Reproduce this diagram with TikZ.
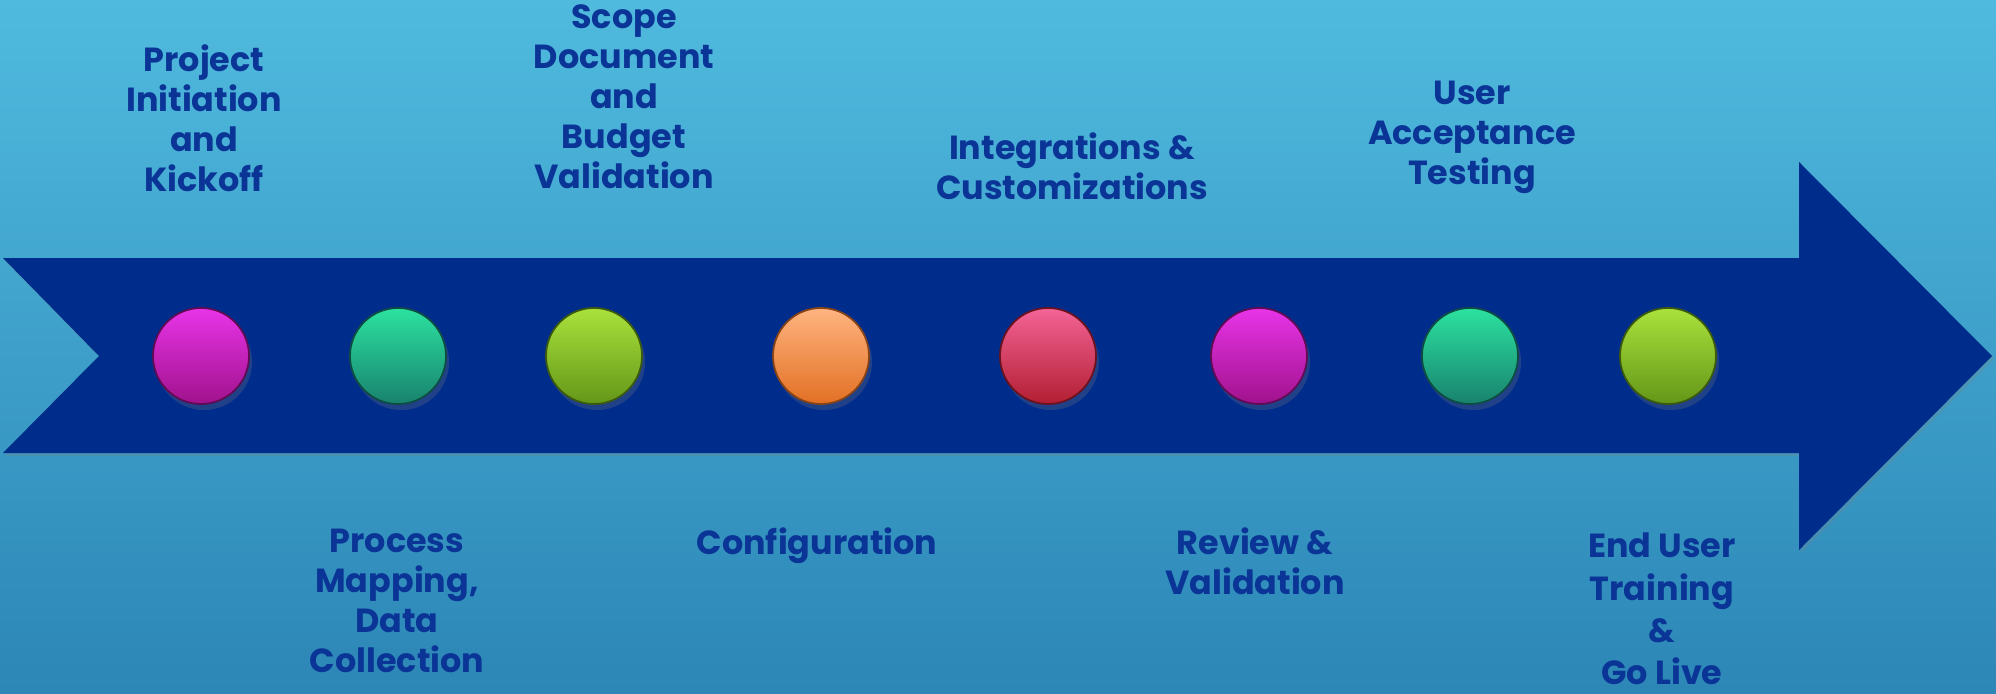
\documentclass[tikz,border=0pt]{standalone}
\usepackage{fontspec}
\setmainfont{Poppins}
\usetikzlibrary{shadows}

\definecolor{bgtop}{RGB}{80,186,222}
\definecolor{bgbot}{RGB}{44,134,182}
\definecolor{band}{RGB}{0,45,140}
\definecolor{ink}{RGB}{10,52,150}
\definecolor{magtop}{RGB}{232,52,232}
\definecolor{magbot}{RGB}{160,18,140}
\definecolor{grntop}{RGB}{44,226,160}
\definecolor{grnbot}{RGB}{24,130,110}
\definecolor{limtop}{RGB}{170,226,60}
\definecolor{limbot}{RGB}{100,150,24}
\definecolor{orgtop}{RGB}{255,180,128}
\definecolor{orgbot}{RGB}{226,112,36}
\definecolor{redtop}{RGB}{244,100,150}
\definecolor{redbot}{RGB}{178,30,50}

\begin{document}
\begin{tikzpicture}[x=0.01cm,y=-0.01cm,
  lbl/.style={align=center,text=ink,font=\bfseries\fontsize{9.5}{11.4}\selectfont},
  dot/.style 2 args={circle,minimum size=0.96cm,inner sep=0pt,top color=#1,bottom color=#2,
    draw=#2!60!black,line width=0.5pt,
    drop shadow={shadow xshift=0.3mm,shadow yshift=-0.6mm,opacity=0.25}}]
\useasboundingbox (0,0) rectangle (1996,694);
\fill[top color=bgtop,bottom color=bgbot] (0,0) rectangle (1996,694);

% the arrow band
\fill[band,drop shadow={shadow xshift=0.2mm,shadow yshift=-0.3mm,opacity=0.25}]
  (3,258) -- (1799,258) -- (1799,162) -- (1992,356) -- (1799,550)
  -- (1799,453) -- (3,453) -- (99,356) -- cycle;

\foreach \x/\c [count=\i] in {201/mag,398/grn,594/lim,821/org,1048/red,1259/mag,1470/grn,1668/lim}
  \node[dot={\c top}{\c bot}] (d\i) at (\x,356) {};

% milestones above the band
\node[lbl] (l1) at (204,118) {Project\\Initiation\\and\\Kickoff};
\node[lbl] (l3) at (624,97) {Scope\\Document\\and\\Budget\\Validation};
\node[lbl] (l5) at (1072,166) {Integrations \&\\Customizations};
\node[lbl] (l7) at (1472,137) {User\\Acceptance\\Testing};

% milestones below the band
\node[lbl] (l2) at (397,601) {Process\\Mapping,\\Data\\Collection};
\node[lbl] (l4) at (817,546) {Configuration};
\node[lbl] (l6) at (1255,561) {Review \&\\Validation};
\node[lbl] (l8) at (1662,609) {End User\\[0.6pt]Training\\[0.6pt]\&\\[0.6pt]Go Live};
\end{tikzpicture}
\end{document}
